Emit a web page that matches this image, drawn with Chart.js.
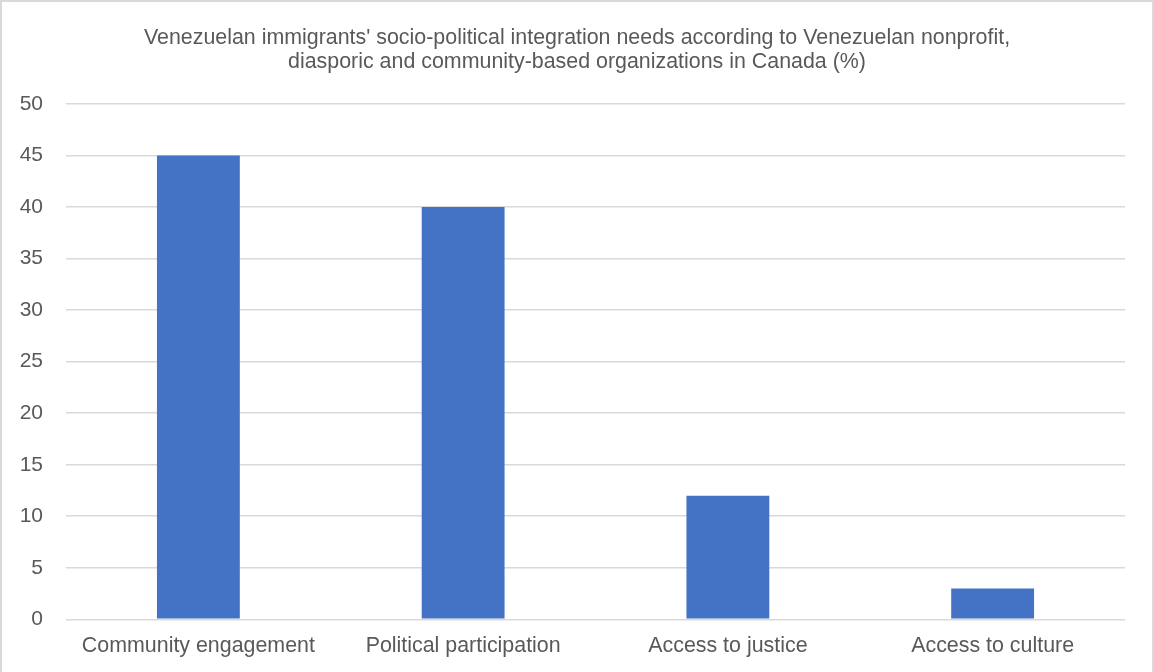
<!DOCTYPE html>
<html>
<head>
<meta charset="utf-8">
<script src="https://cdn.jsdelivr.net/npm/chart.js@4.4.1/dist/chart.umd.min.js"></script>
<style>
  html, body { margin: 0; padding: 0; overflow: hidden; background: #fff; }
  #frame {
    position: absolute; left: 0; top: 0;
    width: 1154px; height: 680px;
    box-sizing: border-box;
    border: 2px solid #d9d9d9;
  }
  #chart { display: block; }
</style>
</head>
<body>
<div id="frame"><canvas id="chart" width="1150" height="676"></canvas></div>
<script>
// Data
const categories = ['Community engagement', 'Political participation', 'Access to justice', 'Access to culture'];
const values = [45, 40, 12, 3];
const titleLines = [
  "Venezuelan immigrants' socio-political integration needs according to Venezuelan nonprofit,",
  'diasporic and community-based organizations in Canada (%)',
];
const yMax = 50;
const yStep = 5;

const textColor = '#595959';
const gridColor = '#d9d9d9';
const fontFamily = '"Liberation Sans", Arial, sans-serif';

const ctx = document.getElementById('chart').getContext('2d');

const myChart = new Chart(ctx, {
  type: 'bar',
  data: {
    labels: categories,
    datasets: [
      {
        label: 'Needs',
        data: values,
        backgroundColor: '#4472c4',
        borderWidth: 0,
        categoryPercentage: 1,
        barPercentage: 0.313,
      },
    ],
  },
  options: {
    responsive: false,
    animation: false,
    layout: {
      padding: { top: 24, left: 0, right: 0, bottom: 5 },
    },
    plugins: {
      legend: { display: false },
      tooltip: { enabled: false },
      title: {
        display: true,
        text: titleLines,
        color: textColor,
        font: { family: fontFamily, size: 21.4, weight: 'normal', lineHeight: 1.12 },
        padding: { top: 0, bottom: 30 },
      },
    },
    scales: {
      x: {
        grid: { display: false, drawTicks: false },
        border: { display: false },
        ticks: {
          color: textColor,
          font: { family: fontFamily, size: 21.4 },
          padding: 14,
        },
      },
      y: {
        min: 0,
        max: yMax,
        grid: { color: gridColor, lineWidth: 1.5, drawTicks: false },
        border: { display: false },
        ticks: {
          stepSize: yStep,
          color: textColor,
          font: { family: fontFamily, size: 21 },
          padding: 23,
        },
        afterFit: (scale) => {
          scale.width = 64;
        },
      },
      // empty axis that keeps the right margin, so the title stays centred
      yRight: {
        position: 'right',
        display: true,
        grid: { display: false, drawTicks: false },
        border: { display: false },
        ticks: { display: false },
        afterFit: (scale) => {
          scale.width = 27;
        },
      },
    },
  },
});
</script>
</body>
</html>
